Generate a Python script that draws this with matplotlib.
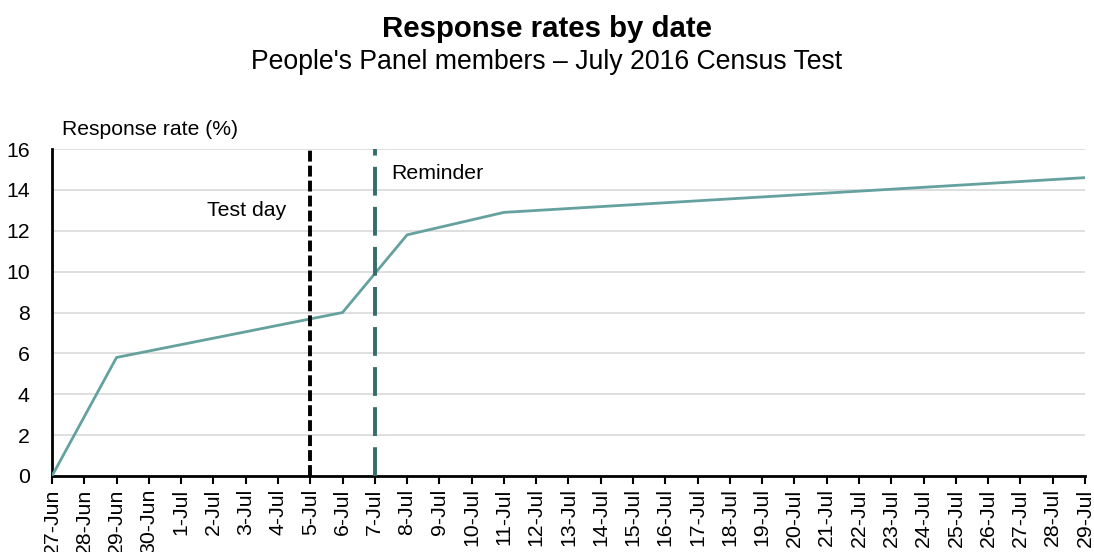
import numpy as np
import matplotlib
matplotlib.use('Agg')
import matplotlib.pyplot as plt

plt.rcParams['font.family'] = ['Liberation Sans', 'DejaVu Sans']

# daily tick labels, 27-Jun .. 29-Jul
days = ['27-Jun', '28-Jun', '29-Jun', '30-Jun'] + [f'{d}-Jul' for d in range(1, 30)]

# break points of the response-rate line (day, %)
point_days = ['27-Jun', '29-Jun', '6-Jul', '8-Jul', '11-Jul', '29-Jul']
point_rates = [0.0, 5.8, 8.0, 11.8, 12.9, 14.6]

test_day = '5-Jul'
reminder_day = '7-Jul'

x = [days.index(d) for d in point_days]

fig = plt.figure(figsize=(10.94, 5.52), dpi=100)
ax = fig.add_axes([0.0475, 0.1377, 0.9443, 0.5923])

ax.set_xlim(0, len(days) - 1)
ax.set_ylim(0, 16)
ax.set_yticks(range(0, 17, 2))
ax.grid(axis='y', color='#d9d9d9', linewidth=1.2, zorder=0)
ax.set_axisbelow(True)

ax.plot(x, point_rates, color='#65a19f', linewidth=2, zorder=3)

ax.vlines(days.index(test_day), 0, 16, colors='black', linestyles=(0, (2.8, 1.05)),
          linewidth=2.8, zorder=4)
ax.vlines(days.index(reminder_day), 0, 16, colors='#356b6b', linestyles=(0, (7.4, 2.9)),
          linewidth=2.8, zorder=4)
ax.text(days.index(test_day) - 0.75, 13.0, 'Test day', ha='right', va='center', fontsize=15.3)
ax.text(days.index(reminder_day) + 0.5, 14.8, 'Reminder', ha='left', va='center', fontsize=15.3)

ax.set_xticks(range(len(days)))
ax.set_xticklabels(days, rotation=90, fontsize=15.3)
ax.tick_params(axis='x', length=6, width=1.5, color='black', pad=3)
ax.tick_params(axis='y', length=0, pad=16, labelsize=15.3)

for s in ['top', 'right']:
    ax.spines[s].set_visible(False)
ax.spines['left'].set_linewidth(2)
ax.spines['bottom'].set_linewidth(2)

fig.text(0.0567, 0.766, 'Response rate (%)', ha='left', va='center', fontsize=15.2)
fig.text(0.5, 0.947, 'Response rates by date', ha='center', va='center',
         fontsize=21.2, fontweight='bold')
fig.text(0.5, 0.888, "People's Panel members \u2013 July 2016 Census Test", ha='center',
         va='center', fontsize=19.2)

fig.savefig('out.png', dpi=100)
